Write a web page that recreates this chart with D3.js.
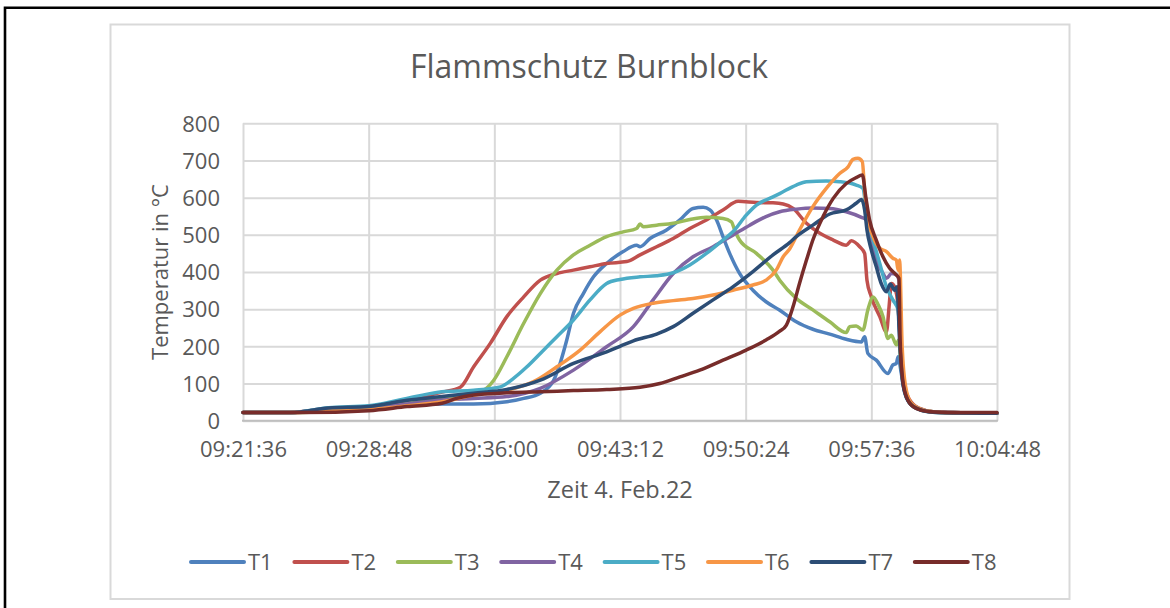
<!DOCTYPE html>
<html>
<head>
<meta charset="utf-8">
<script src="https://cdn.jsdelivr.net/npm/d3@7"></script>
<style>
  body { margin: 0; background: #fff; }
  svg { display: block; font-family: "Open Sans", sans-serif; }
  .txt { fill: #595959; }
</style>
</head>
<body>
<svg id="chart" width="1170" height="608"></svg>
<script>
"use strict";

// chart values
const chartTitle = "Flammschutz Burnblock";
const xTitle = "Zeit 4. Feb.22";
const yTitle = "Temperatur in °C";
const timeTicks = ["09:21:36", "09:28:48", "09:36:00", "09:43:12", "09:50:24", "09:57:36", "10:04:48"];
const tempTicks = [0, 100, 200, 300, 400, 500, 600, 700, 800];
const seriesNames = ["T1", "T2", "T3", "T4", "T5", "T6", "T7", "T8"];
const seriesColors = ["#4f81bd", "#c0504d", "#9bbb59", "#8064a2", "#4bacc6", "#f79646", "#2c4d75", "#772c2a"];

const t1 = [["09:21:36",22],["09:24:20",22],["09:26:30",32],["09:28:48",35],["09:31:00",42],["09:33:00",45],["09:34:49",45],["09:36:43",51],["09:37:41",60],["09:38:38",74],["09:39:24",109],["09:39:46",154],["09:40:09",217],["09:40:32",289],["09:41:06",342],["09:41:41",387],["09:42:26",423],["09:43:23",455],["09:44:09",472],["09:44:21",468],["09:44:55",490],["09:45:52",513],["09:46:38",540],["09:47:23",571],["09:47:58",574],["09:48:21",567],["09:48:44",540],["09:49:06",495],["09:49:29",450],["09:50:03",396],["09:50:49",351],["09:51:34",320],["09:52:20",298],["09:53:18",266],["09:54:15",246],["09:55:13",233],["09:56:10",219],["09:57:02",212],["09:57:13",226],["09:57:24",181],["09:57:53",163],["09:58:33",127],["09:58:50",150],["09:59:02",154],["09:59:08",172],["09:59:19",127],["09:59:31",74],["09:59:48",47],["10:00:22",30],["10:01:08",24],["10:02:17",22],["10:04:48",20]];
const t2 = [["09:21:36",22],["09:24:20",22],["09:26:30",33],["09:28:48",37],["09:30:30",50],["09:32:00",65],["09:33:00",77],["09:34:03",90],["09:34:49",145],["09:35:46",208],["09:36:43",280],["09:37:41",333],["09:38:38",378],["09:39:35",396],["09:40:32",405],["09:41:29",414],["09:42:26",423],["09:43:35",428],["09:44:21",446],["09:45:18",468],["09:46:15",490],["09:47:12",517],["09:48:09",540],["09:49:06",567],["09:49:58",590],["09:51:01",587],["09:51:58",586],["09:52:33",583],["09:53:07",571],["09:53:53",531],["09:54:39",504],["09:55:25",486],["09:56:10",472],["09:56:27",484],["09:56:56",468],["09:57:13",450],["09:57:21",378],["09:57:36",333],["09:58:05",280],["09:58:28",239],["09:58:37",307],["09:58:45",369],["09:58:56",360],["09:59:08",307],["09:59:19",172],["09:59:31",91],["09:59:48",56],["10:00:22",33],["10:01:08",24],["10:02:17",22],["10:04:48",20]];
const t3 = [["09:21:36",22],["09:24:30",22],["09:26:30",26],["09:28:48",30],["09:31:00",45],["09:33:00",62],["09:34:30",72],["09:35:23",82],["09:35:58",109],["09:36:43",172],["09:37:41",262],["09:38:38",342],["09:39:35",405],["09:40:32",446],["09:41:29",472],["09:42:26",495],["09:43:23",508],["09:44:09",517],["09:44:21",529],["09:44:32",522],["09:45:18",526],["09:46:15",531],["09:47:12",541],["09:48:09",547],["09:49:06",544],["09:49:35",535],["09:49:46",513],["09:50:03",486],["09:51:01",450],["09:51:58",405],["09:52:21",378],["09:53:18",329],["09:54:15",298],["09:55:13",266],["09:56:10",237],["09:56:21",253],["09:56:44",255],["09:57:07",244],["09:57:24",298],["09:57:42",333],["09:58:00",311],["09:58:16",280],["09:58:33",221],["09:58:45",230],["09:59:02",204],["09:59:10",217],["09:59:19",145],["09:59:31",82],["09:59:48",51],["10:00:22",32],["10:01:08",24],["10:02:17",22],["10:04:48",20]];
const t4 = [["09:21:36",22],["09:24:30",22],["09:26:30",28],["09:28:48",32],["09:31:00",45],["09:33:00",56],["09:34:49",60],["09:36:43",65],["09:38:38",87],["09:40:32",136],["09:42:26",199],["09:43:58",253],["09:45:06",325],["09:46:15",396],["09:47:23",441],["09:48:32",468],["09:49:40",499],["09:50:38",526],["09:51:34",549],["09:52:21",562],["09:53:18",569],["09:54:15",572],["09:55:13",571],["09:56:10",562],["09:57:02",547],["09:57:19",540],["09:57:30",495],["09:57:53",432],["09:58:16",396],["09:58:28",383],["09:58:45",396],["09:59:02",392],["09:59:11",378],["09:59:19",172],["09:59:31",85],["09:59:48",50],["10:00:22",32],["10:01:08",24],["10:02:17",22],["10:04:48",20]];
const t5 = [["09:21:36",22],["09:24:20",22],["09:26:30",35],["09:28:48",40],["09:30:30",55],["09:31:30",65],["09:33:00",78],["09:34:49",82],["09:36:21",91],["09:37:06",114],["09:37:52",145],["09:38:38",181],["09:39:35",226],["09:40:32",271],["09:41:29",325],["09:42:26",369],["09:43:12",380],["09:44:21",387],["09:45:18",390],["09:46:15",398],["09:47:12",419],["09:48:09",450],["09:49:06",486],["09:49:40",508],["09:50:26",553],["09:51:01",580],["09:51:58",602],["09:52:21",611],["09:53:18",634],["09:53:53",643],["09:55:01",645],["09:55:47",643],["09:56:44",634],["09:57:07",625],["09:57:21",549],["09:57:42",486],["09:58:05",423],["09:58:28",360],["09:58:50",325],["09:59:08",298],["09:59:19",145],["09:59:31",78],["09:59:48",47],["10:00:22",30],["10:01:08",23],["10:02:17",21],["10:04:48",20]];
const t6 = [["09:21:36",22],["09:24:30",22],["09:26:30",27],["09:28:48",30],["09:31:00",40],["09:33:00",51],["09:34:49",69],["09:36:43",82],["09:38:15",105],["09:39:35",145],["09:40:55",190],["09:42:03",239],["09:43:12",284],["09:43:58",302],["09:45:06",316],["09:46:15",323],["09:47:23",329],["09:48:32",338],["09:49:40",351],["09:50:49",365],["09:51:34",378],["09:52:09",405],["09:52:33",441],["09:52:55",462],["09:53:29",513],["09:54:15",576],["09:55:01",625],["09:55:47",665],["09:56:16",683],["09:56:33",703],["09:56:50",706],["09:57:05",697],["09:57:13",620],["09:57:21",558],["09:57:42",495],["09:58:05",464],["09:58:28",455],["09:58:50",437],["09:59:02",432],["09:59:08",405],["09:59:13",432],["09:59:22",199],["09:59:34",91],["09:59:53",47],["10:00:33",29],["10:01:20",23],["10:02:30",21],["10:04:48",20]];
const t7 = [["09:21:36",22],["09:24:20",22],["09:26:30",34],["09:28:48",38],["09:31:00",55],["09:33:00",65],["09:34:49",74],["09:36:43",84],["09:38:38",109],["09:40:32",154],["09:42:26",185],["09:43:12",200],["09:43:58",215],["09:45:18",233],["09:46:15",253],["09:47:23",289],["09:48:32",325],["09:49:40",360],["09:50:49",401],["09:51:58",446],["09:52:55",479],["09:53:18",495],["09:54:15",526],["09:55:13",556],["09:56:10",567],["09:56:44",585],["09:57:02",595],["09:57:13",567],["09:57:21",513],["09:57:36",459],["09:57:53",414],["09:58:10",369],["09:58:28",347],["09:58:41",368],["09:58:56",351],["09:59:04",360],["09:59:13",217],["09:59:25",96],["09:59:48",47],["10:00:22",30],["10:01:08",23],["10:02:17",21],["10:04:48",20]];
const t8 = [["09:21:36",22],["09:25:00",22],["09:28:48",27],["09:31:00",38],["09:33:00",47],["09:33:50",60],["09:34:49",69],["09:36:43",75],["09:38:38",78],["09:40:32",81],["09:42:26",84],["09:44:21",90],["09:45:29",100],["09:46:38",118],["09:47:46",136],["09:49:06",163],["09:50:26",190],["09:51:34",217],["09:52:20",240],["09:52:44",257],["09:53:07",307],["09:53:29",369],["09:53:53",432],["09:54:15",486],["09:54:50",549],["09:55:25",598],["09:56:10",638],["09:56:44",654],["09:57:05",661],["09:57:17",602],["09:57:30",540],["09:57:53",486],["09:58:16",441],["09:58:39",410],["09:59:02",392],["09:59:11",383],["09:59:15",217],["09:59:24",109],["09:59:41",56],["10:00:10",33],["10:00:56",24],["10:02:17",22],["10:04:48",22]];

const seriesData = [t1, t2, t3, t4, t5, t6, t7, t8];

const svg = d3.select("#chart");
const plot = { left: 243, right: 997, top: 123.3, bottom: 420.7 };
const parseTime = d3.timeParse("%H:%M:%S");

// outer frame (only top and left edge visible)
svg.append("path")
  .attr("d", "M5,608V7.7H1170")
  .attr("fill", "none")
  .attr("stroke", "#000")
  .attr("stroke-width", 2.6);

// chart area
svg.append("rect")
  .attr("x", 110.5).attr("y", 24.5)
  .attr("width", 959).attr("height", 574.5)
  .attr("fill", "#fff")
  .attr("stroke", "#d9d9d9")
  .attr("stroke-width", 2);

const x = d3.scaleTime()
  .domain([parseTime(timeTicks[0]), parseTime(timeTicks[timeTicks.length - 1])])
  .range([plot.left, plot.right]);

const y = d3.scaleLinear()
  .domain([0, 800])
  .range([plot.bottom, plot.top]);

// gridlines
const yGrid = d3.axisLeft(y)
  .tickValues(tempTicks)
  .tickSize(-(plot.right - plot.left))
  .tickFormat("");
svg.append("g")
  .attr("transform", "translate(" + plot.left + ",0)")
  .call(yGrid)
  .call(g => g.select(".domain").remove())
  .call(g => g.selectAll("line").attr("stroke", "#d9d9d9").attr("stroke-width", 2));

const xGrid = d3.axisBottom(x)
  .tickValues(timeTicks.map(parseTime))
  .tickSize(-(plot.bottom - plot.top))
  .tickFormat("");
svg.append("g")
  .attr("transform", "translate(0," + plot.bottom + ")")
  .call(xGrid)
  .call(g => g.select(".domain").remove())
  .call(g => g.selectAll("line").attr("stroke", "#d9d9d9").attr("stroke-width", 2));

// category axis line
svg.append("line")
  .attr("x1", plot.left - 1).attr("x2", plot.right + 1)
  .attr("y1", plot.bottom).attr("y2", plot.bottom)
  .attr("stroke", "#bfbfbf")
  .attr("stroke-width", 2);

// tick labels
const yAxis = d3.axisLeft(y).tickValues(tempTicks).tickSize(0).tickPadding(23);
svg.append("g")
  .attr("transform", "translate(" + plot.left + ",0)")
  .call(yAxis)
  .call(g => g.select(".domain").remove())
  .call(g => g.selectAll("text")
    .attr("class", "txt")
    .attr("font-size", 22)
    .attr("font-family", "Open Sans")
    .attr("dy", "0.35em"));

const xAxis = d3.axisBottom(x)
  .tickValues(timeTicks.map(parseTime))
  .tickFormat(d3.timeFormat("%H:%M:%S"))
  .tickSize(0).tickPadding(21);
svg.append("g")
  .attr("transform", "translate(0," + plot.bottom + ")")
  .call(xAxis)
  .call(g => g.select(".domain").remove())
  .call(g => g.selectAll("text")
    .attr("class", "txt")
    .attr("font-size", 22)
    .attr("font-family", "Open Sans"));

// series
const line = d3.line()
  .x(d => x(parseTime(d[0])))
  .y(d => y(d[1]))
  .curve(d3.curveMonotoneX);

svg.append("g")
  .selectAll("path")
  .data(seriesData)
  .join("path")
  .attr("d", line)
  .attr("fill", "none")
  .attr("stroke", (d, i) => seriesColors[i])
  .attr("stroke-width", 3.5)
  .attr("stroke-linejoin", "round")
  .attr("stroke-linecap", "round");

// titles
svg.append("text")
  .attr("class", "txt")
  .attr("x", 589).attr("y", 78)
  .attr("text-anchor", "middle")
  .attr("font-size", 32)
  .text(chartTitle);

svg.append("text")
  .attr("class", "txt")
  .attr("x", 620).attr("y", 498)
  .attr("text-anchor", "middle")
  .attr("font-size", 23.5)
  .text(xTitle);

svg.append("text")
  .attr("class", "txt")
  .attr("transform", "translate(168,272) rotate(-90)")
  .attr("text-anchor", "middle")
  .attr("font-size", 22)
  .text(yTitle);

// legend
const legend = svg.append("g")
  .selectAll("g")
  .data(seriesNames)
  .join("g")
  .attr("transform", (d, i) => "translate(" + (191 + i * 103.4) + ",562)");

legend.append("line")
  .attr("x1", 0).attr("x2", 53)
  .attr("stroke", (d, i) => seriesColors[i])
  .attr("stroke-width", 4)
  .attr("stroke-linecap", "round");

legend.append("text")
  .attr("class", "txt")
  .attr("x", 57).attr("y", 8)
  .attr("font-size", 22)
  .text(d => d);
</script>
</body>
</html>
